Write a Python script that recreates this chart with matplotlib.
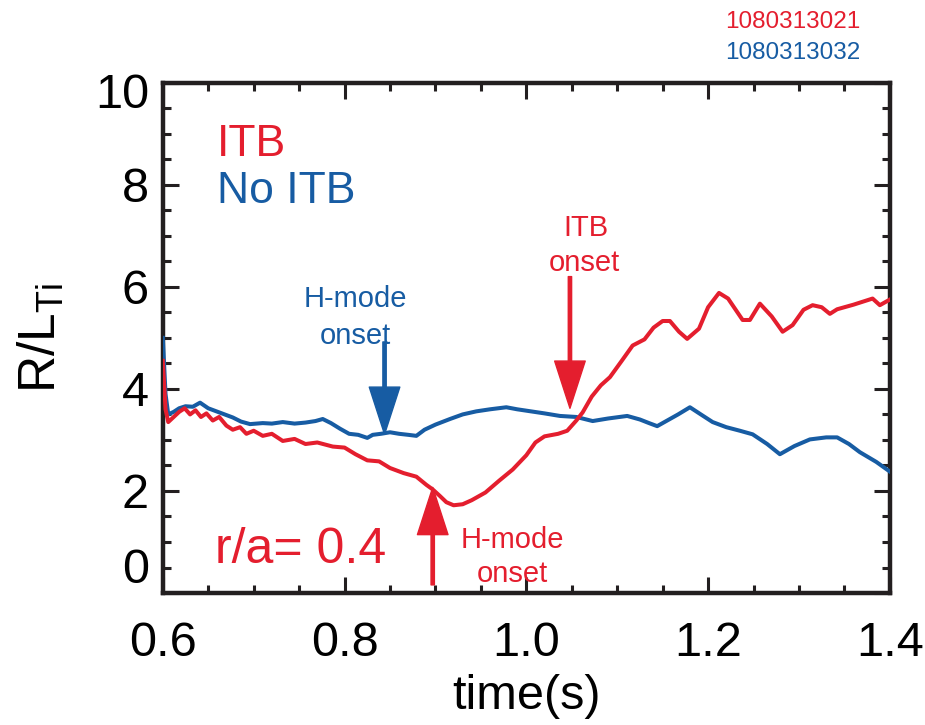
import matplotlib
matplotlib.use("Agg")
import matplotlib.pyplot as plt
from matplotlib.ticker import MultipleLocator
import matplotlib.transforms as mtransforms

plt.rcParams["font.family"] = ["Liberation Sans", "DejaVu Sans"]
plt.rcParams["mathtext.default"] = "regular"

VERMELHO = "#E41E2E"
AZUL = "#175CA3"

# ITB shot (1080313021)
t_itb = [0.600, 0.603, 0.606, 0.612, 0.618, 0.624, 0.630, 0.636, 0.642, 0.648,
         0.655, 0.662, 0.670, 0.677, 0.685, 0.692, 0.700, 0.710, 0.720, 0.732,
         0.745, 0.757, 0.770, 0.787, 0.800, 0.812, 0.825, 0.838, 0.850, 0.865,
         0.879, 0.890, 0.897, 0.905, 0.912, 0.920, 0.930, 0.940, 0.955, 0.970,
         0.985, 1.000, 1.010, 1.020, 1.035, 1.045, 1.055, 1.062, 1.072, 1.082,
         1.092, 1.105, 1.117, 1.130, 1.140, 1.150, 1.158, 1.168, 1.177, 1.190,
         1.200, 1.212, 1.222, 1.238, 1.246, 1.257, 1.270, 1.282, 1.293, 1.305,
         1.315, 1.325, 1.334, 1.342, 1.360, 1.381, 1.389, 1.400]
rl_itb = [4.55, 3.60, 3.35, 3.45, 3.55, 3.62, 3.50, 3.58, 3.45, 3.52,
          3.38, 3.45, 3.28, 3.20, 3.25, 3.12, 3.18, 3.08, 3.12, 2.98,
          3.02, 2.92, 2.95, 2.87, 2.85, 2.72, 2.60, 2.58, 2.45, 2.35,
          2.28, 2.12, 2.03, 1.90, 1.78, 1.72, 1.74, 1.82, 1.97, 2.20,
          2.42, 2.70, 2.95, 3.07, 3.12, 3.18, 3.38, 3.54, 3.85, 4.07,
          4.23, 4.55, 4.85, 4.97, 5.20, 5.33, 5.33, 5.12, 4.98, 5.18,
          5.60, 5.88, 5.77, 5.35, 5.35, 5.67, 5.42, 5.12, 5.25, 5.55,
          5.64, 5.60, 5.47, 5.56, 5.65, 5.77, 5.64, 5.75]

# No ITB shot (1080313032)
t_noitb = [0.600, 0.603, 0.606, 0.612, 0.618, 0.625, 0.633, 0.641, 0.650, 0.659,
           0.668, 0.677, 0.686, 0.696, 0.710, 0.720, 0.732, 0.745, 0.757, 0.768,
           0.776, 0.785, 0.795, 0.805, 0.815, 0.825, 0.831, 0.840, 0.850, 0.860,
           0.870, 0.879, 0.888, 0.900, 0.916, 0.930, 0.945, 0.960, 0.978, 0.990,
           1.005, 1.020, 1.037, 1.055, 1.073, 1.090, 1.111, 1.125, 1.135, 1.144,
           1.155, 1.167, 1.180, 1.192, 1.205, 1.220, 1.235, 1.249, 1.265, 1.279,
           1.295, 1.312, 1.330, 1.342, 1.355, 1.367, 1.385, 1.400]
rl_noitb = [5.00, 3.90, 3.50, 3.55, 3.62, 3.66, 3.65, 3.73, 3.62, 3.56,
            3.50, 3.44, 3.36, 3.31, 3.33, 3.32, 3.35, 3.32, 3.34, 3.37,
            3.41, 3.33, 3.22, 3.12, 3.10, 3.04, 3.10, 3.12, 3.15, 3.12,
            3.10, 3.08, 3.20, 3.30, 3.41, 3.50, 3.56, 3.60, 3.64, 3.60,
            3.56, 3.52, 3.47, 3.45, 3.37, 3.42, 3.47, 3.40, 3.33, 3.27,
            3.38, 3.50, 3.64, 3.50, 3.35, 3.25, 3.18, 3.11, 2.92, 2.72,
            2.88, 3.01, 3.05, 3.05, 2.92, 2.76, 2.57, 2.38]

# setas: (x, y inicio, y ponta)
seta_hmode_azul = (0.844, 4.92, 3.11)
seta_itb = (1.048, 6.20, 3.62)
seta_hmode_verm = (0.897, 0.16, 2.07)

fig = plt.figure(figsize=(9.25, 7.25), dpi=100)
ax = fig.add_axes([0.176, 0.182, 0.786, 0.704])

ax.plot(t_noitb, rl_noitb, color=AZUL, lw=2.9, zorder=3)
ax.plot(t_itb, rl_itb, color=VERMELHO, lw=2.9, zorder=4)

ax.set_xlim(0.6, 1.4)
ax.set_ylim(0, 10)
ax.xaxis.set_major_locator(MultipleLocator(0.2))
ax.xaxis.set_minor_locator(MultipleLocator(0.05))
ax.yaxis.set_major_locator(MultipleLocator(2))
ax.yaxis.set_minor_locator(MultipleLocator(0.5))
ax.set_xticks([0.6, 0.8, 1.0, 1.2, 1.4], ["0.6", "0.8", "1.0", "1.2", "1.4"])
ax.set_yticks([0, 2, 4, 6, 8, 10], ["0", "2", "4", "6", "8", "10"])

ax.tick_params(which="both", direction="in", top=True, right=True,
               width=2.2, color="#231F20")
ax.tick_params(which="major", length=11.5)
ax.tick_params(which="minor", length=5.8)
ax.tick_params(axis="x", labelsize=35, pad=20)
ax.tick_params(axis="y", labelsize=35, pad=10)
for s in ax.spines.values():
    s.set_linewidth(3.2)
    s.set_color("#231F20")

# empurra os rotulos extremos para dentro
rot_y = ax.get_yticklabels()
rot_y[0].set_va("bottom")
rot_y[-1].set_transform(rot_y[-1].get_transform() +
                        mtransforms.ScaledTranslation(0, -6 / 72, fig.dpi_scale_trans))

ax.set_xlabel("time(s)", fontsize=35, labelpad=6)
ax.set_ylabel(r"R/L$_{Ti}$", fontsize=37, labelpad=20)

# legenda em texto
ax.text(0.660, 8.56, "ITB", color=VERMELHO, fontsize=32, va="baseline")
ax.text(0.660, 7.64, "No ITB", color=AZUL, fontsize=32, va="baseline")
ax.text(0.657, 0.59, "r/a= 0.4", color=VERMELHO, fontsize=36, va="baseline")

ax.text(0.812, 5.61, "H-mode", color=AZUL, fontsize=21, ha="center", va="baseline")
ax.text(0.812, 4.88, "onset", color=AZUL, fontsize=21, ha="center", va="baseline")
ax.text(1.066, 6.99, "ITB", color=VERMELHO, fontsize=21, ha="center", va="baseline")
ax.text(1.064, 6.30, "onset", color=VERMELHO, fontsize=21, ha="center", va="baseline")
ax.text(0.985, 0.89, "H-mode", color=VERMELHO, fontsize=21, ha="center", va="baseline")
ax.text(0.985, 0.22, "onset", color=VERMELHO, fontsize=21, ha="center", va="baseline")

for (x, y0, y1), cor in [(seta_hmode_azul, AZUL), (seta_itb, VERMELHO),
                         (seta_hmode_verm, VERMELHO)]:
    ax.annotate("", xy=(x, y1), xytext=(x, y0),
                arrowprops=dict(color=cor, width=2.4, headwidth=22,
                                headlength=34, shrink=0), zorder=5)

fig.text(0.93, 0.97, "1080313021", color=VERMELHO, fontsize=17.5,
         ha="right", va="center")
fig.text(0.93, 0.927, "1080313032", color=AZUL, fontsize=17.5,
         ha="right", va="center")

fig.savefig("out.png", dpi=100)
